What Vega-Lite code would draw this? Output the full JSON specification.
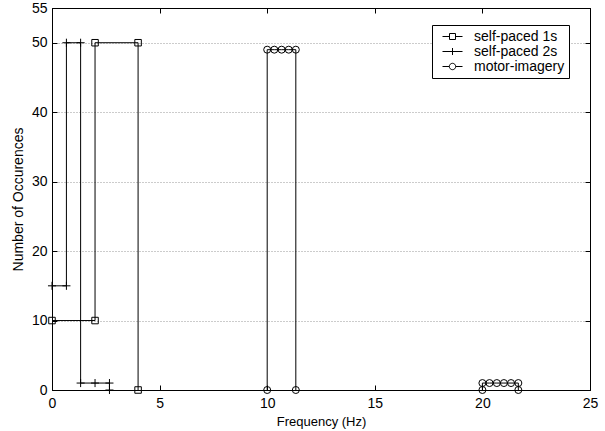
{
  "$schema": "https://vega.github.io/schema/vega-lite/v6.json",
  "width": 538,
  "height": 382,
  "autosize": {"type": "none"},
  "padding": {"left": 52, "top": 8, "right": 15, "bottom": 41},
  "background": "white",
  "config": {
    "font": "Liberation Sans",
    "view": {"stroke": "black", "strokeWidth": 1},
    "axis": {
      "domainColor": "black",
      "tickColor": "black",
      "labelColor": "black",
      "titleColor": "black",
      "labelFont": "Liberation Sans",
      "titleFont": "Liberation Sans",
      "labelFontSize": 14,
      "titleFontSize": 13,
      "titleFontWeight": "normal",
      "tickSize": -5,
      "grid": false
    }
  },
  "data": {
    "values": [
      {"series": "self-paced 1s", "seg": "a", "i": 1, "x": 0, "y": 10},
      {"series": "self-paced 1s", "seg": "a", "i": 2, "x": 2, "y": 10},
      {"series": "self-paced 1s", "seg": "a", "i": 3, "x": 2, "y": 50},
      {"series": "self-paced 1s", "seg": "a", "i": 4, "x": 4, "y": 50},
      {"series": "self-paced 1s", "seg": "a", "i": 5, "x": 4, "y": 0},
      {"series": "self-paced 2s", "seg": "b", "i": 1, "x": 0, "y": 15},
      {"series": "self-paced 2s", "seg": "b", "i": 2, "x": 0.67, "y": 15},
      {"series": "self-paced 2s", "seg": "b", "i": 3, "x": 0.67, "y": 50},
      {"series": "self-paced 2s", "seg": "b", "i": 4, "x": 1.33, "y": 50},
      {"series": "self-paced 2s", "seg": "b", "i": 5, "x": 1.33, "y": 1},
      {"series": "self-paced 2s", "seg": "b", "i": 6, "x": 2.0, "y": 1},
      {"series": "self-paced 2s", "seg": "b", "i": 7, "x": 2.67, "y": 1},
      {"series": "self-paced 2s", "seg": "b", "i": 8, "x": 2.67, "y": 0},
      {"series": "motor-imagery", "seg": "c", "i": 1, "x": 10, "y": 0},
      {"series": "motor-imagery", "seg": "c", "i": 2, "x": 10, "y": 49},
      {"series": "motor-imagery", "seg": "c", "i": 3, "x": 10.33, "y": 49},
      {"series": "motor-imagery", "seg": "c", "i": 4, "x": 10.67, "y": 49},
      {"series": "motor-imagery", "seg": "c", "i": 5, "x": 11, "y": 49},
      {"series": "motor-imagery", "seg": "c", "i": 6, "x": 11.33, "y": 49},
      {"series": "motor-imagery", "seg": "c", "i": 7, "x": 11.33, "y": 0},
      {"series": "motor-imagery", "seg": "d", "i": 1, "x": 20, "y": 0},
      {"series": "motor-imagery", "seg": "d", "i": 2, "x": 20, "y": 1},
      {"series": "motor-imagery", "seg": "d", "i": 3, "x": 20.33, "y": 1},
      {"series": "motor-imagery", "seg": "d", "i": 4, "x": 20.67, "y": 1},
      {"series": "motor-imagery", "seg": "d", "i": 5, "x": 21, "y": 1},
      {"series": "motor-imagery", "seg": "d", "i": 6, "x": 21.33, "y": 1},
      {"series": "motor-imagery", "seg": "d", "i": 7, "x": 21.67, "y": 1},
      {"series": "motor-imagery", "seg": "d", "i": 8, "x": 21.67, "y": 0}
    ]
  },
  "layer": [
    {
      "mark": {"type": "line", "color": "black", "strokeWidth": 1},
      "encoding": {
        "x": {
          "field": "x", "type": "quantitative",
          "scale": {"domain": [0, 25], "nice": false, "zero": false},
          "axis": {"orient": "bottom", "title": "Frequency (Hz)", "values": [0, 5, 10, 15, 20, 25], "labelPadding": 11, "titlePadding": 5, "labelFlush": false}
        },
        "y": {
          "field": "y", "type": "quantitative",
          "scale": {"domain": [0, 55], "nice": false},
          "axis": {"orient": "left", "title": "Number of Occurences", "titleFontSize": 14, "values": [0, 10, 20, 30, 40, 50, 55], "grid": true, "gridColor": "#999999", "gridDash": [1, 2], "gridWidth": 1, "labelPadding": 10, "titlePadding": 6, "labelFlush": false}
        },
        "detail": {"field": "seg"},
        "order": {"field": "i"}
      }
    },
    {
      "mark": {"type": "point", "filled": false, "color": "black", "strokeWidth": 1, "opacity": 1, "size": 49},
      "encoding": {
        "x": {
          "field": "x", "type": "quantitative",
          "axis": {"orient": "top", "title": null, "labels": false, "values": [0, 5, 10, 15, 20, 25]}
        },
        "y": {
          "field": "y", "type": "quantitative",
          "axis": {"orient": "right", "title": null, "labels": false, "values": [0, 10, 20, 30, 40, 50, 55]}
        },
        "shape": {
          "field": "series", "type": "nominal",
          "scale": {"domain": ["self-paced 1s", "self-paced 2s", "motor-imagery"], "range": ["M-0.93,-0.93H0.93V0.93H-0.93Z", "M-1.15,0H1.15M0,-1.15V1.15", "circle"]},
          "legend": null
        }
      }
    },
    {
      "transform": [{"filter": "datum.i < 0"}],
      "mark": {"type": "point", "filled": false, "color": "black", "strokeWidth": 1},
      "encoding": {
        "x": {"field": "x", "type": "quantitative", "axis": null},
        "y": {"field": "y", "type": "quantitative", "axis": null},
        "shape": {
          "field": "series", "type": "nominal",
          "scale": {"domain": ["self-paced 1s", "self-paced 2s", "motor-imagery"], "range": ["M-1,0H-0.3M0.3,0H1M-0.3,-0.3H0.3V0.3H-0.3ZM12.6,0H12.6", "M-1,0H1M0,-0.35V0.35M12.6,0H12.6", "M-1,0H-0.32M0.32,0H1M0.32,0A0.32,0.32,0,1,1,-0.32,0A0.32,0.32,0,1,1,0.32,0ZM12.6,0H12.6"]},
          "legend": {
            "orient": "none", "legendX": 380, "legendY": 17,
            "title": null,
            "strokeColor": "black", "fillColor": "white",
            "padding": 4,
            "clipHeight": 15,
            "labelFont": "Liberation Sans", "labelFontSize": 14, "labelColor": "black",
            "symbolSize": 400, "symbolStrokeColor": "black", "symbolStrokeWidth": 1, "symbolFillColor": "transparent", "symbolOpacity": 1,
            "symbolOffset": 6,
            "labelOffset": 11, "rowPadding": 0
          }
        }
      }
    }
  ],
  "resolve": {"axis": {"x": "independent", "y": "independent"}, "scale": {"shape": "independent"}, "legend": {"shape": "independent"}}
}
